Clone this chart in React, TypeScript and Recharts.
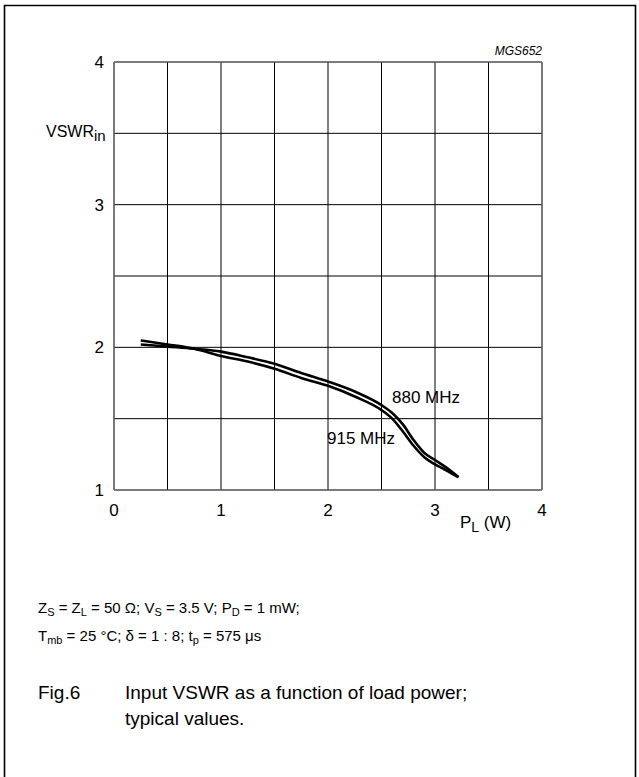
import React from "react";
import { LineChart, Line, XAxis, YAxis, CartesianGrid, ReferenceLine } from "recharts";

const powerW = [0.25, 0.5, 0.75, 1.0, 1.25, 1.5, 1.75, 2.0, 2.25, 2.5, 2.6, 2.7, 2.8, 2.9, 3.0, 3.1, 3.22];
const vswr880 = [2.02, 2.005, 1.99, 1.97, 1.93, 1.885, 1.82, 1.76, 1.69, 1.595, 1.54, 1.46, 1.35, 1.26, 1.21, 1.16, 1.09];
const vswr915 = [2.048, 2.02, 1.99, 1.94, 1.9, 1.85, 1.785, 1.73, 1.655, 1.56, 1.5, 1.41, 1.31, 1.23, 1.18, 1.14, 1.09];
const xTicks = [0, 0.5, 1, 1.5, 2, 2.5, 3, 3.5, 4];
const yTicks = [1, 1.5, 2, 2.5, 3, 3.5, 4];

const data = powerW.map((p, i) => ({ p, f880: vswr880[i], f915: vswr915[i] }));

const FONT = "'Liberation Sans', Arial, sans-serif";

const XTick = (props: any) => {
  const { x, payload } = props;
  if (!Number.isInteger(payload.value)) return null;
  return (
    <text x={x} y={516} textAnchor="middle" fontSize={17} fontFamily={FONT} fill="#000">
      {payload.value}
    </text>
  );
};

const YTick = (props: any) => {
  const { y, payload } = props;
  if (!Number.isInteger(payload.value)) return null;
  return (
    <text x={104} y={y} dy="0.36em" textAnchor="end" fontSize={17} fontFamily={FONT} fill="#000">
      {payload.value}
    </text>
  );
};

export default function App() {
  return (
    <div style={{ position: "absolute", left: 0, top: 0, width: 639, height: 777, background: "#fff" }}>
      <LineChart width={639} height={777} data={data} margin={{ top: 62, right: 97, bottom: 257, left: 0 }}>
        <CartesianGrid stroke="#000" strokeWidth={1} horizontalValues={yTicks} verticalValues={xTicks} />
        <XAxis
          type="number"
          dataKey="p"
          domain={[0, 4]}
          ticks={xTicks}
          interval={0}
          height={30}
          axisLine={false}
          tickLine={false}
          tick={<XTick />}
        />
        <YAxis
          type="number"
          domain={[1, 4]}
          ticks={yTicks}
          interval={0}
          width={114}
          axisLine={false}
          tickLine={false}
          tick={<YTick />}
        />
        <ReferenceLine x={0} stroke="#777" strokeWidth={1.2} />
        <ReferenceLine x={4} stroke="#777" strokeWidth={1.2} />
        <ReferenceLine y={1} stroke="#777" strokeWidth={1.2} />
        <ReferenceLine y={4} stroke="#777" strokeWidth={1.2} />
        <Line type="monotone" dataKey="f880" stroke="#000" strokeWidth={2.6} dot={false} isAnimationActive={false} />
        <Line type="monotone" dataKey="f915" stroke="#000" strokeWidth={2.6} dot={false} isAnimationActive={false} />
      </LineChart>
      <svg
        width={639}
        height={777}
        style={{ position: "absolute", left: 0, top: 0, pointerEvents: "none" }}
        fontFamily={FONT}
      >
        <path d="M4.5 777 V5.5 H635.5 V777" fill="none" stroke="#000" strokeWidth={1.6} />
        <text x={542} y={55} textAnchor="end" fontSize={12} fontStyle="italic" fill="#000">MGS652</text>
        <text x={46} y={137} fontSize={16} fill="#000">
          VSWR<tspan dy={4} fontSize={15}>in</tspan>
        </text>
        <text x={460} y={528} fontSize={17} fill="#000">
          P<tspan dy={4} fontSize={14}>L</tspan><tspan dy={-4}> (W)</tspan>
        </text>
        <text x={392} y={403} fontSize={17} fill="#000">880 MHz</text>
        <text x={395} y={444} textAnchor="end" fontSize={17} fill="#000">915 MHz</text>
        <text x={38} y={613} fontSize={15} fill="#000">
          Z<tspan dy={3} fontSize={11}>S</tspan><tspan dy={-3}> = Z</tspan><tspan dy={3} fontSize={11}>L</tspan>
          <tspan dy={-3}> = 50 Ω; V</tspan><tspan dy={3} fontSize={11}>S</tspan><tspan dy={-3}> = 3.5 V; P</tspan>
          <tspan dy={3} fontSize={11}>D</tspan><tspan dy={-3}> = 1 mW;</tspan>
        </text>
        <text x={38} y={641} fontSize={15} fill="#000">
          T<tspan dy={3} fontSize={11}>mb</tspan><tspan dy={-3}> = 25 °C; δ = 1 : 8; t</tspan>
          <tspan dy={3} fontSize={11}>p</tspan><tspan dy={-3}> = 575 μs</tspan>
        </text>
        <text x={38} y={699} fontSize={19} fill="#000">Fig.6</text>
        <text x={125} y={699} fontSize={19} fill="#000">Input VSWR as a function of load power;</text>
        <text x={125} y={725} fontSize={19} fill="#000">typical values.</text>
      </svg>
    </div>
  );
}
